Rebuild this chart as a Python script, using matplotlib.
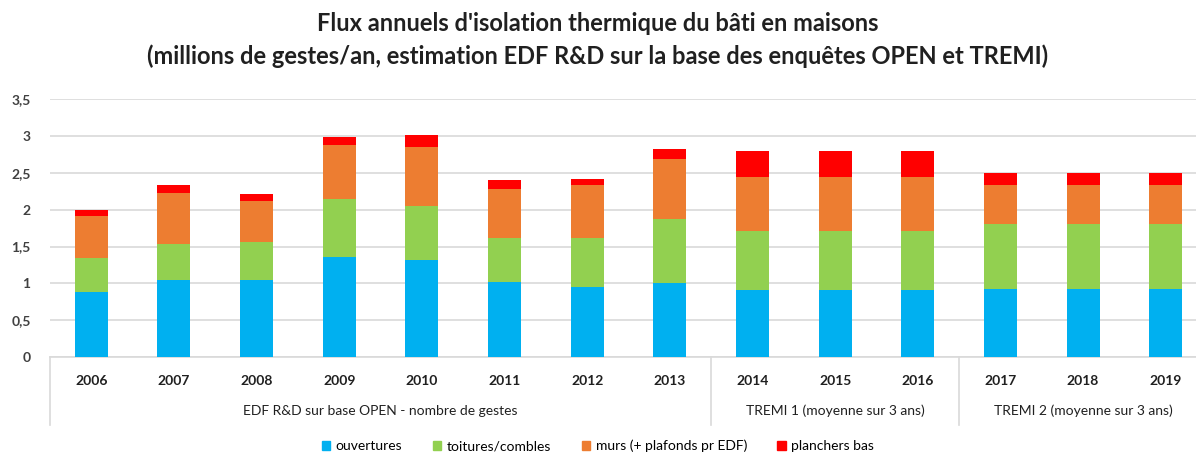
import numpy as np
import matplotlib.pyplot as plt
import matplotlib.transforms as mtransforms
from matplotlib.patches import Patch

plt.rcParams['font.family'] = ['Lato', 'DejaVu Sans']

years = ['2006', '2007', '2008', '2009', '2010', '2011', '2012', '2013',
         '2014', '2015', '2016', '2017', '2018', '2019']
ouvertures = [0.88, 1.04, 1.04, 1.36, 1.32, 1.02, 0.95, 1.00, 0.91, 0.91, 0.91, 0.93, 0.93, 0.93]
toitures = [0.46, 0.50, 0.52, 0.78, 0.73, 0.60, 0.67, 0.87, 0.80, 0.80, 0.80, 0.87, 0.87, 0.87]
murs = [0.57, 0.69, 0.56, 0.74, 0.80, 0.66, 0.71, 0.82, 0.73, 0.73, 0.73, 0.53, 0.53, 0.53]
planchers = [0.09, 0.10, 0.09, 0.11, 0.16, 0.12, 0.09, 0.14, 0.36, 0.36, 0.36, 0.17, 0.17, 0.17]

series_names = ['ouvertures', 'toitures/combles', 'murs (+ plafonds pr EDF)', 'planchers bas']
colors = ['#00B0F0', '#92D050', '#ED7D31', '#FF0000']

groups = ['EDF R&D sur base OPEN - nombre de gestes',
          'TREMI 1 (moyenne sur 3 ans)', 'TREMI 2 (moyenne sur 3 ans)']
group_sizes = [8, 3, 3]

fig = plt.figure(figsize=(11.96, 4.55), dpi=100)
ax = fig.add_axes([50 / 1196, 1 - 357 / 455, 1157 / 1196, 257.7 / 455])

x = np.arange(len(years))
bottom = np.zeros(len(years))
for vals, c in zip([ouvertures, toitures, murs, planchers], colors):
    ax.bar(x, vals, 0.4, bottom=bottom, color=c, zorder=3)
    bottom += np.array(vals)

ax.set_xlim(-0.5, len(years) - 0.5)
ax.set_ylim(0, 3.5)
ax.set_yticks(np.arange(0, 3.51, 0.5))
ax.set_yticklabels(['0', '0,5', '1', '1,5', '2', '2,5', '3', '3,5'],
                   fontsize=10, fontweight='bold', color='#404040')
ax.tick_params(axis='y', length=0, pad=14)
ax.grid(axis='y', color='#D9D9D9', linewidth=1.2, zorder=0)
for s in ['top', 'right', 'left']:
    ax.spines[s].set_visible(False)
ax.spines['bottom'].set_color('#D9D9D9')
ax.spines['bottom'].set_linewidth(1.2)
ax.set_xticks([])

trans = mtransforms.blended_transform_factory(ax.transData, ax.transAxes)
for i, yr in enumerate(years):
    ax.text(i, -0.095, yr, transform=trans, ha='center', va='center',
            fontsize=10, fontweight='bold', color='#202020')

# group brackets under the category axis
start = 0
edges = [-0.5]
for g, n in zip(groups, group_sizes):
    mid = start + (n - 1) / 2
    ax.text(mid, -0.21, g, transform=trans, ha='center', va='center',
            fontsize=10, color='#202020')
    start += n
    edges.append(start - 0.5)
for e in edges:
    ax.plot([e, e], [0, -0.264], transform=trans, color='#D9D9D9',
            linewidth=1.2, clip_on=False)

fig.text(0.5, 1 - 40 / 455,
         "Flux annuels d'isolation thermique du bâti en maisons\n"
         "(millions de gestes/an, estimation EDF R&D sur la base des enquêtes OPEN et TREMI)",
         ha='center', va='center', fontsize=17, fontweight='bold', color='#202020',
         linespacing=1.45)

handles = [Patch(color=c) for c in colors]
fig.legend(handles, series_names, loc='center', bbox_to_anchor=(0.5, 1 - 446 / 455),
           ncol=4, frameon=False, fontsize=10, handlelength=0.6, handleheight=0.6,
           handletextpad=0.4, columnspacing=2.2)

fig.savefig('out.png', dpi=100)
